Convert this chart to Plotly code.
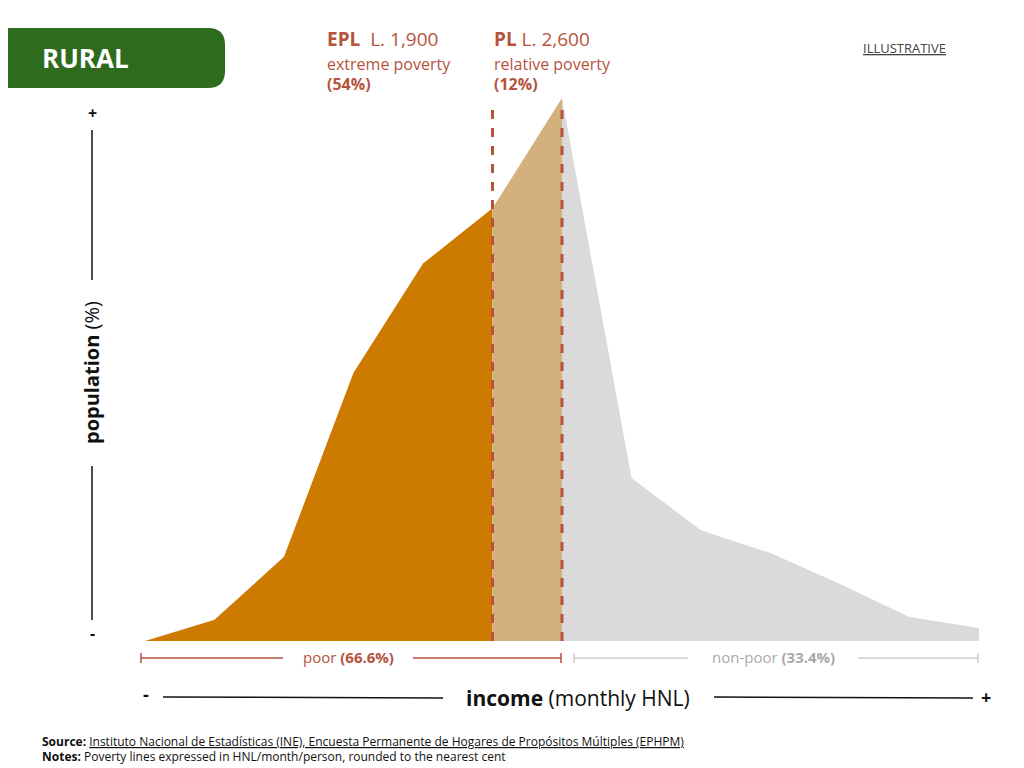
import plotly.graph_objects as go

# income steps (arbitrary scale) and population share (relative, peak = 100)
income = [0, 1, 2, 3, 4, 5, 6, 7, 8, 9, 10, 11, 12]
population = [0, 3.9, 15.5, 49.4, 69.5, 79.7, 100, 30.0, 20.4, 16.2, 10.5, 4.4, 2.4]
epl_x, pl_x = 5, 6
poor_share, nonpoor_share = "66.6%", "33.4%"
epl_label, pl_label = "L. 1,900", "L. 2,600"
epl_pct, pl_pct = "(54%)", "(12%)"

ORANGE = "#cc7a00"
TAN = "#d4b07e"
GREY = "#dadada"
RUST = "#b5533c"
GREEN = "#2e6b1e"
FONT = "Open Sans"

W, H = 1024, 768
L, R, T, B = 137, 971, 90, 633


def px(x):
    return (x - L) / (R - L)


def py(y):
    return (B - y) / (B - T)


fig = go.Figure()
segs = [(0, epl_x, ORANGE), (epl_x, pl_x, TAN), (pl_x, 12, GREY)]
for a, b, c in segs:
    xs = income[a:b + 1]
    ys = population[a:b + 1]
    fig.add_trace(go.Scatter(x=xs, y=ys, fill="tozeroy", mode="lines",
                             line=dict(width=0, color=c), fillcolor=c,
                             hoverinfo="skip", showlegend=False))

shapes = []
for xv in (epl_x, pl_x):
    shapes.append(dict(type="line", xref="x", yref="paper", x0=xv, x1=xv,
                       y0=0, y1=py(94), line=dict(color=RUST, width=3, dash="dash")))
# title box
shapes.append(dict(type="path", xref="paper", yref="paper",
                   path=f"M {px(0)},{py(20)} L {px(200)},{py(20)} Q {px(217)},{py(20)} {px(217)},{py(37)} "
                        f"L {px(217)},{py(63)} Q {px(217)},{py(80)} {px(200)},{py(80)} L {px(0)},{py(80)} Z",
                   fillcolor=GREEN, line=dict(width=0)))
# y axis lines
for y0, y1 in ((122, 272), (458, 612)):
    shapes.append(dict(type="line", xref="paper", yref="paper", x0=px(84), x1=px(84),
                       y0=py(y0), y1=py(y1), line=dict(color="#111", width=1.5)))
# x axis lines
for x0, x1 in ((155, 435), (706, 965)):
    shapes.append(dict(type="line", xref="paper", yref="paper", x0=px(x0), x1=px(x1),
                       y0=py(689), y1=py(690), line=dict(color="#111", width=1.5)))
# brackets
for x0, x1, c, gaps in ((133, 553, RUST, (275, 405)), (566, 970, "#cccccc", (680, 850))):
    for a, b in ((x0, gaps[0]), (gaps[1], x1)):
        shapes.append(dict(type="line", xref="paper", yref="paper", x0=px(a), x1=px(b),
                           y0=py(650), y1=py(650), line=dict(color=c, width=1.5)))
    for xx in (x0, x1):
        shapes.append(dict(type="line", xref="paper", yref="paper", x0=px(xx), x1=px(xx),
                           y0=py(645), y1=py(655), line=dict(color=c, width=1.5)))


def ann(x, y, text, size=14, color="#111", xanchor="left", **kw):
    return dict(xref="paper", yref="paper", x=px(x), y=py(y), text=text, showarrow=False,
                xanchor=xanchor, yanchor="middle", font=dict(family=FONT, size=size, color=color), **kw)


anns = [
    ann(32, 50, "<b>RURAL</b>", 26, "white"),
    ann(317, 31, f"<b>EPL</b>  {epl_label}", 19, RUST),
    ann(317, 56, "extreme poverty", 16, RUST),
    ann(317, 76, f"<b>{epl_pct}</b>", 16, RUST),
    ann(484, 31, f"<b>PL</b> {pl_label}", 19, RUST),
    ann(484, 56, "relative poverty", 16, RUST),
    ann(484, 76, f"<b>{pl_pct}</b>", 16, RUST),
    ann(896, 40, "<u>ILLUSTRATIVE</u>", 13, "#444", xanchor="center"),
    ann(84, 365, "<b>population</b> (%)", 20, "#111", xanchor="center", textangle=-90),
    ann(84, 105, "<b>+</b>", 16, "#111", xanchor="center"),
    ann(84, 625, "<b>-</b>", 16, "#111", xanchor="center"),
    ann(570, 690, "<b>income</b> (monthly HNL)", 21, "#111", xanchor="center"),
    ann(138, 686, "<b>-</b>", 18, "#111", xanchor="center"),
    ann(978, 689, "<b>+</b>", 18, "#111", xanchor="center"),
    ann(340, 649, f"poor <b>({poor_share})</b>", 15, RUST, xanchor="center"),
    ann(765, 649, f"non-poor <b>({nonpoor_share})</b>", 15, "#aaaaaa", xanchor="center"),
    ann(32, 733, "<b>Source:</b> <u>Instituto Nacional de Estadísticas (INE), Encuesta Permanente de Hogares de Propósitos Múltiples (EPHPM)</u>", 12),
    ann(32, 748, "<b>Notes:</b> Poverty lines expressed in HNL/month/person, rounded to the nearest cent", 12),
]

fig.update_layout(
    width=W, height=H, plot_bgcolor="white", paper_bgcolor="white",
    margin=dict(l=L, r=W - R, t=T, b=H - B),
    xaxis=dict(range=[0, 12], visible=False),
    yaxis=dict(range=[0, 100], visible=False),
    shapes=shapes, annotations=anns, showlegend=False,
)
fig.write_html("out.html")
